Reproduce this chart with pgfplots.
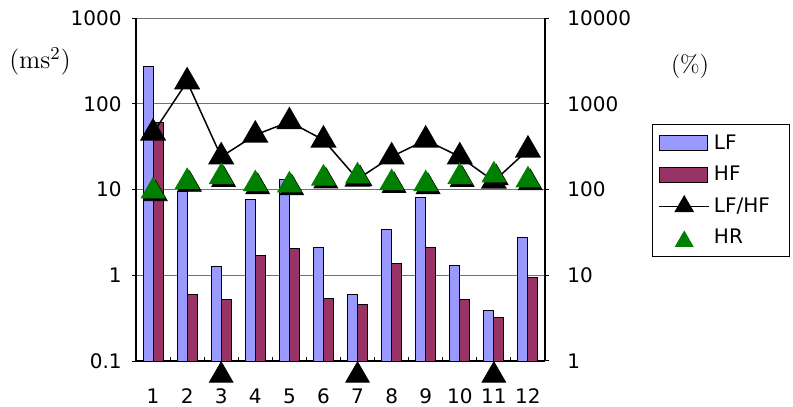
\documentclass[border=0pt]{standalone}
\usepackage{fontspec}
\usepackage{pgfplots}
\pgfplotsset{compat=1.18}
\newfontfamily\tickfont{DejaVu Sans}

\definecolor{lfcol}{HTML}{9999FF}
\definecolor{hfcol}{HTML}{993366}
\definecolor{hrcol}{HTML}{008000}

% 1 px of the reference = 0.5pt
\pgfplotsset{
  trimark/.style={mark=triangle*, mark size=6.8pt,
    every mark/.append style={yshift=-1.7pt}},
  barleg/.style={legend image code/.code={
    \draw[##1] (0pt,-3.75pt) rectangle (24pt,3.75pt);}},
  lineleg/.style={legend image code/.code={
    \draw[mark repeat=2, mark phase=2, ##1, mark size=5pt]
      plot coordinates {(0pt,0pt) (12.5pt,0pt) (25pt,0pt)};}},
}

\begin{document}
\begin{tikzpicture}
\useasboundingbox (-68pt,-23pt) rectangle (328.5pt,180.5pt);

\begin{axis}[
  scale only axis, width=204.5pt, height=171.5pt,
  xmin=0.5, xmax=12.5, ymode=log, yminorticks=false,
  tick align=outside, major tick length=2pt,
  axis line style={line width=0.8pt},
  tick style={black, line width=0.5pt},
  tick label style={font=\tickfont\fontsize{10}{12}\selectfont},
  /pgf/number format/assume math mode=true,
  ymin=0.1, ymax=1000, log origin=infty,
  axis x line*=bottom, axis y line*=left,
  xtick={1,...,12}, major x tick style={draw=none},
  minor xtick={1.5,2.5,...,11.5}, minor tick length=2pt,
  minor x tick style={yshift=2pt},
  xticklabel style={anchor=center, yshift=-15.5pt},
  ytick={0.1,1,10,100,1000}, yticklabels={0.1,1,10,100,1000},
  yticklabel style={anchor=east, inner sep=0pt, xshift=-5pt},
  ymajorgrids, grid style={black!55, line width=0.5pt},
  ybar=0pt, bar width=5pt,
]
% LF
\addplot[fill=lfcol, draw=black, line width=0.5pt] coordinates {
  (1,275) (2,9.6) (3,1.25) (4,7.7) (5,13.1) (6,2.13)
  (7,0.59) (8,3.46) (9,8.1) (10,1.31) (11,0.39) (12,2.77)};
% HF
\addplot[fill=hfcol, draw=black, line width=0.5pt] coordinates {
  (1,61) (2,0.59) (3,0.52) (4,1.71) (5,2.04) (6,0.54)
  (7,0.45) (8,1.38) (9,2.13) (10,0.52) (11,0.32) (12,0.95)};
\end{axis}

\begin{axis}[
  scale only axis, width=204.5pt, height=171.5pt,
  xmin=0.5, xmax=12.5, ymode=log, yminorticks=false,
  tick align=outside, major tick length=2pt,
  axis line style={line width=0.8pt},
  tick style={black, line width=0.5pt},
  tick label style={font=\tickfont\fontsize{10}{12}\selectfont},
  ymin=1, ymax=10000,
  axis x line=none, axis y line*=right, xtick=\empty,
  ytick={1,10,100,1000,10000}, yticklabels={1,10,100,1000,10000},
  yticklabel style={anchor=west, inner sep=0pt, xshift=9pt},
  clip=false,
  legend style={at={(axis description cs:1.2616,0.691)}, anchor=north west,
    draw=black, line width=0.5pt, fill=white,
    font=\tickfont\fontsize{10}{12}\selectfont,
    row sep=3pt, inner xsep=3pt, inner ysep=3pt},
  legend cell align=left,
]
\addlegendimage{barleg, fill=lfcol, draw=black, line width=0.5pt}
\addlegendentry{\makebox[33pt][l]{LF}}
\addlegendimage{barleg, fill=hfcol, draw=black, line width=0.5pt}
\addlegendentry{\makebox[33pt][l]{HF}}
% LF/HF
\addplot[lineleg, black, line width=0.75pt, trimark, mark options={solid, fill=black}] coordinates {
  (1,456) (2,1807) (3,241) (4,432) (5,618) (6,378)
  (7,132) (8,241) (9,378) (10,241) (11,125) (12,289)};
\addlegendentry{\makebox[33pt][l]{LF/HF}}
% shadow of HR marks
\addplot[forget plot, only marks, black, trimark,
  every mark/.append style={xshift=1.2pt, yshift=-1.4pt}] coordinates {
  (1,105) (2,135) (3,154) (4,127) (5,123) (6,148)
  (7,157) (8,131) (9,127) (10,154) (11,161) (12,141)};
% HR
\addplot[lineleg, only marks, hrcol, trimark] coordinates {
  (1,105) (2,135) (3,154) (4,127) (5,123) (6,148)
  (7,157) (8,131) (9,127) (10,154) (11,161) (12,141)};
\addlegendentry{\makebox[33pt][l]{HR}}
% markers below the axis
\addplot[forget plot, only marks, black, trimark] coordinates {
  (3,0.744) (7,0.744) (11,0.744)};
\node[font=\fontsize{13}{15}\selectfont] at (axis description cs:-0.2347,0.8746) {(ms\textsuperscript{2})};
\node[font=\fontsize{12}{14}\selectfont] at (axis description cs:1.3545,0.860) {(\%)};
\end{axis}
\end{tikzpicture}
\end{document}
